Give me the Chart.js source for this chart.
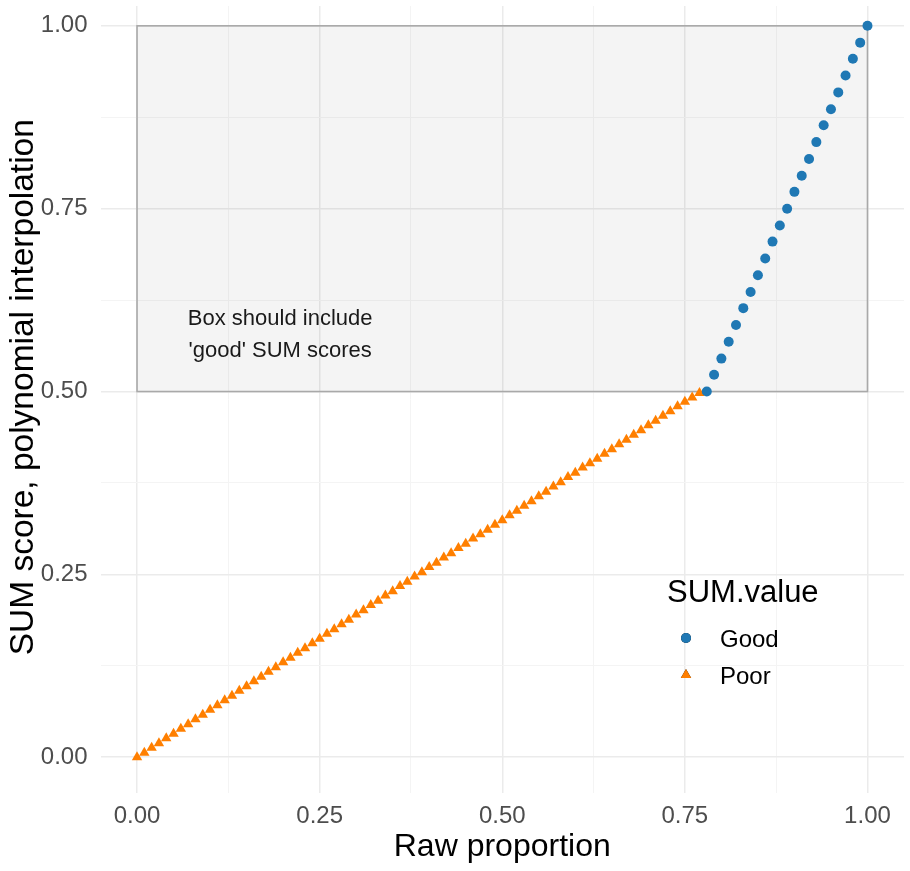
<!DOCTYPE html>
<html>
<head>
<meta charset="utf-8">
<script src="https://cdn.jsdelivr.net/npm/chart.js@4"></script>
<style>
  body { margin: 0; background: #fff; }
  #wrap { width: 910px; height: 871px; position: relative; }
</style>
</head>
<body>
<div id="wrap"><canvas id="sumChart"></canvas></div>
<script>
// Raw proportion vs SUM score, split into 'Good' and 'Poor'
const rawPoor = [0.00, 0.01, 0.02, 0.03, 0.04, 0.05, 0.06, 0.07, 0.08, 0.09,
    0.10, 0.11, 0.12, 0.13, 0.14, 0.15, 0.16, 0.17, 0.18, 0.19,
    0.20, 0.21, 0.22, 0.23, 0.24, 0.25, 0.26, 0.27, 0.28, 0.29,
    0.30, 0.31, 0.32, 0.33, 0.34, 0.35, 0.36, 0.37, 0.38, 0.39,
    0.40, 0.41, 0.42, 0.43, 0.44, 0.45, 0.46, 0.47, 0.48, 0.49,
    0.50, 0.51, 0.52, 0.53, 0.54, 0.55, 0.56, 0.57, 0.58, 0.59,
    0.60, 0.61, 0.62, 0.63, 0.64, 0.65, 0.66, 0.67, 0.68, 0.69,
    0.70, 0.71, 0.72, 0.73, 0.74, 0.75, 0.76, 0.77];
const sumPoor = [0.000, 0.006, 0.013, 0.019, 0.026, 0.032, 0.039, 0.045, 0.052, 0.058,
    0.065, 0.071, 0.078, 0.084, 0.091, 0.097, 0.104, 0.110, 0.117, 0.123,
    0.130, 0.136, 0.143, 0.149, 0.156, 0.162, 0.169, 0.175, 0.182, 0.188,
    0.195, 0.201, 0.208, 0.214, 0.221, 0.227, 0.234, 0.240, 0.247, 0.253,
    0.260, 0.266, 0.273, 0.279, 0.286, 0.292, 0.299, 0.305, 0.311, 0.318,
    0.324, 0.331, 0.337, 0.344, 0.350, 0.357, 0.363, 0.370, 0.376, 0.383,
    0.389, 0.396, 0.402, 0.408, 0.415, 0.421, 0.428, 0.434, 0.441, 0.447,
    0.454, 0.460, 0.467, 0.473, 0.480, 0.486, 0.492, 0.498];

const rawGood = [0.78, 0.79, 0.80, 0.81, 0.82, 0.83, 0.84, 0.85, 0.86, 0.87,
    0.88, 0.89, 0.90, 0.91, 0.92, 0.93, 0.94, 0.95, 0.96, 0.97,
    0.98, 0.99, 1.00];
const sumGood = [0.500, 0.523, 0.545, 0.568, 0.591, 0.614, 0.636, 0.659, 0.682, 0.705,
    0.727, 0.750, 0.773, 0.795, 0.818, 0.841, 0.864, 0.886, 0.909, 0.932,
    0.955, 0.977, 1.000];

// gridlines (major + minor) and which of them get a label
const gridValues = [0, 0.125, 0.25, 0.375, 0.5, 0.625, 0.75, 0.875, 1];
const tickLabels = ['0.00', '', '0.25', '', '0.50', '', '0.75', '', '1.00'];

// shaded 'good' region and its note
const boxX = [0, 1];
const boxY = [0.5, 1];
const boxNote = ["Box should include", "'good' SUM scores"];
const noteAt = [0.196, 0.577];

const legendTitle = 'SUM.value';
const yTitle = 'SUM score, polynomial interpolation';

const FONT = '"Liberation Sans", Arial, sans-serif';
const isMajor = v => tickLabels[gridValues.indexOf(v)] !== '';

const toPoints = (xs, ys) => xs.map((x, i) => ({ x: x, y: ys[i] }));

// draw the grey box and its label under the points
const boxPlugin = {
    id: 'goodBox',
    beforeDatasetsDraw(chart) {
        const { ctx, scales: { x, y } } = chart;
        const x0 = x.getPixelForValue(boxX[0]), x1 = x.getPixelForValue(boxX[1]);
        const y0 = y.getPixelForValue(boxY[1]), y1 = y.getPixelForValue(boxY[0]);
        ctx.save();
        ctx.fillStyle = 'rgba(0, 0, 0, 0.045)';
        ctx.fillRect(x0, y0, x1 - x0, y1 - y0);
        ctx.strokeStyle = '#a9a9a9';
        ctx.lineWidth = 1.6;
        ctx.strokeRect(x0, y0, x1 - x0, y1 - y0);

        ctx.fillStyle = '#1a1a1a';
        ctx.font = '22px ' + FONT;
        ctx.textAlign = 'center';
        ctx.textBaseline = 'middle';
        const cx = x.getPixelForValue(noteAt[0]);
        const cy = y.getPixelForValue(noteAt[1]);
        ctx.fillText(boxNote[0], cx, cy - 16);
        ctx.fillText(boxNote[1], cx, cy + 16);
        ctx.restore();
    }
};

// ggplot style legend inside the panel, plus the rotated y title
const legendPlugin = {
    id: 'sumLegend',
    afterDatasetsDraw(chart) {
        const ctx = chart.ctx;
        ctx.save();
        ctx.fillStyle = '#000';
        ctx.font = '31px ' + FONT;
        ctx.textAlign = 'left';
        ctx.textBaseline = 'alphabetic';
        ctx.fillText(legendTitle, 667, 602);

        ctx.font = '24px ' + FONT;
        chart.data.datasets.forEach((ds, i) => {
            const yy = 638 + i * 37;
            Chart.helpers.drawPoint(ctx, {
                pointStyle: ds.pointStyle,
                radius: ds.pointRadius,
                rotation: 0,
                borderWidth: 0
            }, 686, yy);
            ctx.fillStyle = ds.backgroundColor;
            ctx.fill();
            ctx.fillStyle = '#000';
            ctx.fillText(ds.label, 720, yy + 9);
        });

        // y axis title, centred on the panel as ggplot does
        const area = chart.chartArea;
        ctx.translate(24, (area.top + area.bottom) / 2 - 12);
        ctx.rotate(-Math.PI / 2);
        ctx.font = '33.5px ' + FONT;
        ctx.textAlign = 'center';
        ctx.textBaseline = 'middle';
        ctx.fillText(yTitle, 0, 0);
        ctx.restore();
    }
};

const gridOpts = {
    color: ctx => isMajor(ctx.tick.value) ? '#ebebeb' : '#f4f4f4',
    lineWidth: ctx => isMajor(ctx.tick.value) ? 1.5 : 1,
    drawTicks: false
};

const ctx = document.getElementById('sumChart').getContext('2d');
new Chart(ctx, {
    type: 'scatter',
    data: {
        datasets: [
            {
                label: 'Good',
                data: toPoints(rawGood, sumGood),
                pointStyle: 'circle',
                pointRadius: 5,
                pointBorderWidth: 0,
                backgroundColor: '#1F78B4',
                borderColor: '#1F78B4'
            },
            {
                label: 'Poor',
                data: toPoints(rawPoor, sumPoor),
                pointStyle: 'triangle',
                pointRadius: 6,
                pointBorderWidth: 0,
                backgroundColor: '#FF7F00',
                borderColor: '#FF7F00'
            }
        ]
    },
    options: {
        responsive: true,
        maintainAspectRatio: false,
        animation: false,
        layout: { padding: { left: 0, right: 5.5, top: 0, bottom: 0 } },
        plugins: {
            legend: { display: false },
            tooltip: { enabled: false }
        },
        scales: {
            x: {
                type: 'linear',
                min: -0.05,
                max: 1.05,
                afterBuildTicks: scale => { scale.ticks = gridValues.map(v => ({ value: v })); },
                afterFit: scale => {
                    scale.height = 78.5;
                    scale.paddingLeft = 0;
                    scale.paddingRight = 0;
                },
                grid: gridOpts,
                border: { display: false },
                ticks: {
                    autoSkip: false,
                    maxRotation: 0,
                    padding: 9,
                    color: '#4d4d4d',
                    font: { family: FONT, size: 24 },
                    callback: v => tickLabels[gridValues.indexOf(v)]
                },
                title: {
                    display: true,
                    text: 'Raw proportion',
                    color: '#000',
                    font: { family: FONT, size: 32 },
                    padding: { top: 0, bottom: 5 }
                }
            },
            y: {
                type: 'linear',
                min: -0.0482,
                max: 1.0271,
                afterBuildTicks: scale => { scale.ticks = gridValues.map(v => ({ value: v })); },
                afterFit: scale => {
                    scale.width = 100.5;
                    scale.paddingTop = 0;
                    scale.paddingBottom = 0;
                },
                grid: gridOpts,
                border: { display: false },
                ticks: {
                    autoSkip: false,
                    padding: 13,
                    color: '#4d4d4d',
                    font: { family: FONT, size: 24 },
                    callback: v => tickLabels[gridValues.indexOf(v)]
                },
                title: { display: false }
            }
        }
    },
    plugins: [boxPlugin, legendPlugin]
});
</script>
</body>
</html>
